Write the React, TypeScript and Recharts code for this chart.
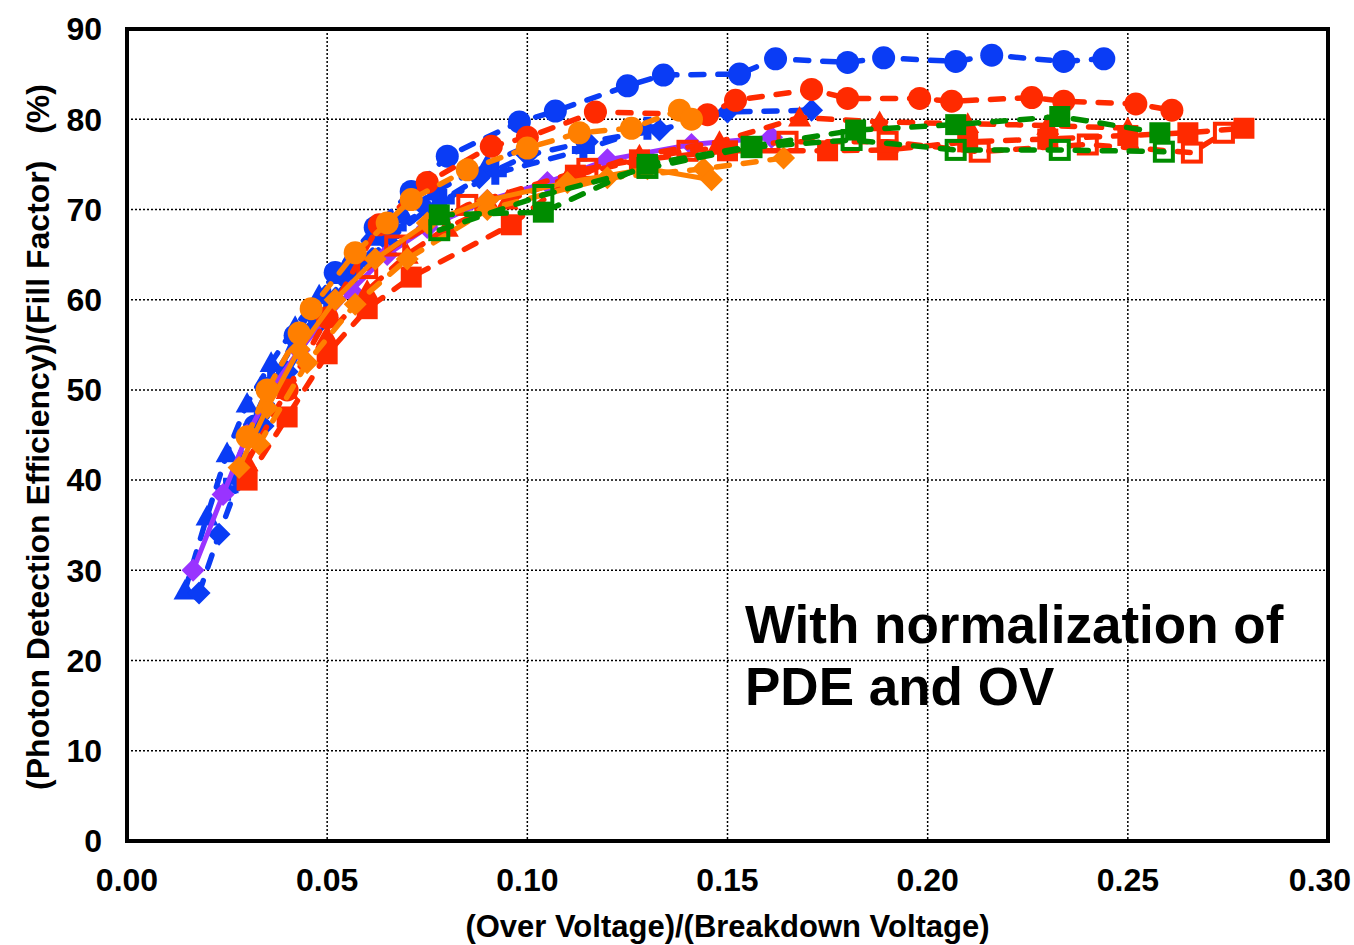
import React from 'react';
import { ScatterChart, Scatter, XAxis, YAxis, CartesianGrid, ReferenceArea } from 'recharts';

const BLUE = '#0a3cf5';
const RED = '#ff2a00';
const ORANGE = '#ff7f00';
const GREEN = '#008c00';
const PURPLE = '#9933ff';

// x = overvoltage / breakdown voltage, y = PDE / fill factor (%)
const blueCircX = [0.032, 0.042, 0.052, 0.062, 0.071, 0.08, 0.098, 0.107, 0.125, 0.134, 0.153, 0.162, 0.18, 0.189, 0.207, 0.216, 0.234, 0.244];
const blueCircY = [46, 56, 63, 68, 72, 75.9, 79.7, 80.9, 83.7, 84.9, 85, 86.7, 86.3, 86.8, 86.4, 87.1, 86.4, 86.7];

const blueTriX = [0.0145, 0.02, 0.025, 0.03, 0.036, 0.042, 0.048, 0.055, 0.062, 0.069, 0.077, 0.09, 0.1];
const blueTriY = [27.8, 36, 43, 48.5, 53, 57, 60.5, 64, 67, 69.5, 72, 75, 77];

const blueDiaX = [0.018, 0.023, 0.028, 0.034, 0.04, 0.047, 0.055, 0.065, 0.075, 0.088, 0.1, 0.115, 0.133, 0.15, 0.171];
const blueDiaY = [27.5, 34, 40, 46, 52, 57, 62, 66.5, 70, 73.5, 76, 77.5, 78.8, 80.8, 81];

const blueCrossX = [0.025, 0.03, 0.036, 0.043, 0.05, 0.058, 0.067, 0.079, 0.092, 0.114, 0.13];
const blueCrossY = [39, 45, 51, 56, 60, 64, 68, 71, 74, 76.6, 79];

const redCircX = [0.04, 0.05, 0.063, 0.075, 0.091, 0.1, 0.117, 0.145, 0.152, 0.171, 0.18, 0.198, 0.206, 0.226, 0.234, 0.252, 0.261];
const redCircY = [50, 58, 68.3, 73, 77, 78, 80.8, 80.5, 82.1, 83.3, 82.3, 82.3, 82, 82.4, 82, 81.7, 81];

const redTriX = [0.03, 0.04, 0.05, 0.06, 0.07, 0.08, 0.095, 0.11, 0.128, 0.148, 0.168, 0.188, 0.21, 0.23, 0.25];
const redTriY = [42, 50, 56, 61, 65, 68, 71, 73.5, 76, 77.5, 80.2, 79.7, 79.5, 79.3, 79];

const redSqX = [0.03, 0.04, 0.05, 0.06, 0.071, 0.096, 0.112, 0.128, 0.15, 0.175, 0.19, 0.21, 0.23, 0.25, 0.265, 0.279];
const redSqY = [40, 47, 54, 59, 62.5, 68.3, 73.8, 75.5, 76.5, 76.5, 76.6, 77.5, 77.8, 78.2, 78.5, 79];

const redOpenX = [0.06, 0.067, 0.085, 0.115, 0.14, 0.165, 0.19, 0.213, 0.24, 0.266, 0.274];
const redOpenY = [63.5, 66, 70.5, 74.5, 76.5, 77.5, 77.5, 76.4, 77.2, 76.3, 78.5];

const greenSqX = [0.078, 0.104, 0.13, 0.156, 0.182, 0.207, 0.233, 0.258];
const greenSqY = [69.4, 69.7, 75, 77, 78.8, 79.4, 80.3, 78.5];

const greenOpenX = [0.078, 0.104, 0.13, 0.156, 0.181, 0.207, 0.233, 0.259];
const greenOpenY = [67.7, 71.6, 74.6, 76.9, 77.7, 76.6, 76.6, 76.4];

const orangeCircX = [0.03, 0.035, 0.043, 0.046, 0.057, 0.065, 0.071, 0.085, 0.1, 0.113, 0.126, 0.138, 0.141];
const orangeCircY = [44.8, 50, 56.3, 59, 65.2, 68.5, 71.1, 74.4, 76.8, 78.5, 79, 81, 80];

const orangeDiaX = [0.028, 0.035, 0.043, 0.052, 0.062, 0.075, 0.09, 0.11, 0.13, 0.146];
const orangeDiaY = [41.4, 48, 54.5, 60, 64.5, 68.5, 71, 73, 74.5, 73.3];

const orangeDia2X = [0.033, 0.045, 0.057, 0.07, 0.09, 0.12, 0.144, 0.164];
const orangeDia2Y = [44, 53, 59.5, 64.5, 70, 73.5, 74.5, 75.7];

const purpleX = [0.0165, 0.024, 0.03, 0.036, 0.043, 0.05, 0.056, 0.065, 0.075, 0.09, 0.105, 0.12, 0.141, 0.161];
const purpleY = [30, 38.4, 45, 50, 54.4, 58, 61, 65, 68, 71, 73, 75.5, 77.2, 78];

const xTicks = [0, 0.05, 0.1, 0.15, 0.2, 0.25, 0.3];
const yTicks = [0, 10, 20, 30, 40, 50, 60, 70, 80, 90];

const pts = (xs: number[], ys: number[]) => xs.map((x, i) => ({ x, y: ys[i] }));

type Kind = 'circle' | 'triangle' | 'diamond' | 'cross' | 'square' | 'open';

function marker(kind: Kind, color: string) {
  return (p: any) => {
    const { cx, cy } = p;
    if (cx == null || cy == null) return <g />;
    const r = 11.5;
    switch (kind) {
      case 'circle':
        return <circle cx={cx} cy={cy} r={r} fill={color} />;
      case 'triangle':
        return <polygon points={`${cx},${cy - r} ${cx + r},${cy + r * 0.8} ${cx - r},${cy + r * 0.8}`} fill={color} />;
      case 'diamond':
        return <polygon points={`${cx},${cy - r} ${cx + r},${cy} ${cx},${cy + r} ${cx - r},${cy}`} fill={color} />;
      case 'cross':
        return (
          <path
            d={`M${cx - 4},${cy - r}h8v${r - 4}h${r - 4}v8h${-(r - 4)}v${r - 4}h-8v${-(r - 4)}h${-(r - 4)}v-8h${r - 4}z`}
            fill={color}
          />
        );
      case 'square':
        return <rect x={cx - 10.5} y={cy - 10.5} width={21} height={21} fill={color} />;
      default:
        return <rect x={cx - 9} y={cy - 9} width={18} height={18} fill="none" stroke={color} strokeWidth={4} />;
    }
  };
}

const dashed = (color: string) => ({ stroke: color, strokeWidth: 5.5, strokeDasharray: '13 14', strokeLinecap: 'round' as const });

const series: { name: string; data: { x: number; y: number }[]; kind: Kind; color: string; solid?: boolean }[] = [
  { name: 'bt', data: pts(blueTriX, blueTriY), kind: 'triangle', color: BLUE },
  { name: 'bx', data: pts(blueCrossX, blueCrossY), kind: 'cross', color: BLUE },
  { name: 'bd', data: pts(blueDiaX, blueDiaY), kind: 'diamond', color: BLUE },
  { name: 'bc', data: pts(blueCircX, blueCircY), kind: 'circle', color: BLUE },
  { name: 'pd', data: pts(purpleX, purpleY), kind: 'diamond', color: PURPLE, solid: true },
  { name: 'rt', data: pts(redTriX, redTriY), kind: 'triangle', color: RED },
  { name: 'rc', data: pts(redCircX, redCircY), kind: 'circle', color: RED },
  { name: 'rs', data: pts(redSqX, redSqY), kind: 'square', color: RED },
  { name: 'ro', data: pts(redOpenX, redOpenY), kind: 'open', color: RED },
  { name: 'od2', data: pts(orangeDia2X, orangeDia2Y), kind: 'diamond', color: ORANGE },
  { name: 'od', data: pts(orangeDiaX, orangeDiaY), kind: 'diamond', color: ORANGE, solid: true },
  { name: 'oc', data: pts(orangeCircX, orangeCircY), kind: 'circle', color: ORANGE },
  { name: 'go', data: pts(greenOpenX, greenOpenY), kind: 'open', color: GREEN },
  { name: 'gs', data: pts(greenSqX, greenSqY), kind: 'square', color: GREEN },
];

const font = '"Liberation Sans", Arial, sans-serif';
const tickStyle = { fontSize: 32, fontWeight: 700, fill: '#000', fontFamily: font };

// x tick: last label would run past the right edge, so nudge it in
const XTick = (p: any) => {
  const { x, y, payload } = p;
  const last = payload.value >= 0.3;
  return (
    <text x={last ? x - 8 : x} y={y} dy="0.71em" textAnchor="middle" {...tickStyle}>
      {Number(payload.value).toFixed(2)}
    </text>
  );
};

export default function App() {
  return (
    <div style={{ position: 'absolute', left: 0, top: 0, width: 1354, height: 945, background: '#fff', fontFamily: font }}>
      <ScatterChart width={1354} height={945} margin={{ top: 29, right: 26, bottom: 0, left: 0 }}>
        <CartesianGrid stroke="#000" strokeDasharray="2 2" strokeWidth={1.5} />
        <XAxis
          type="number"
          dataKey="x"
          domain={[0, 0.3]}
          ticks={xTicks}
          axisLine={false}
          tickLine={false}
          tickSize={6}
          tickMargin={21}
          height={104}
          tick={<XTick />}
          interval={0}
          label={{
            value: '(Over Voltage)/(Breakdown Voltage)',
            position: 'insideBottom',
            offset: 8,
            style: { fontSize: 31, fontWeight: 700, fill: '#000', fontFamily: font },
          }}
        />
        <YAxis
          type="number"
          dataKey="y"
          domain={[0, 90]}
          ticks={yTicks}
          axisLine={false}
          tickLine={false}
          tickSize={6}
          tickMargin={19}
          width={127}
          tick={tickStyle}
          interval={0}
        />
        {series.map((s) => (
          <Scatter
            key={s.name}
            name={s.name}
            data={s.data}
            fill={s.color}
            line={s.solid ? { stroke: s.color, strokeWidth: 5 } : dashed(s.color)}
            shape={marker(s.kind, s.color)}
            isAnimationActive={false}
          />
        ))}
        <ReferenceArea x1={0} x2={0.3} y1={0} y2={90} fill="none" stroke="#000" strokeWidth={4} ifOverflow="visible" />
      </ScatterChart>
      <div
        style={{
          position: 'absolute',
          left: 38,
          top: 437,
          transform: 'translate(-50%, -50%) rotate(-90deg)',
          whiteSpace: 'pre',
          fontSize: 32,
          fontWeight: 700,
          color: '#000',
        }}
      >
        {'(Photon Detection Efficiency)/(Fill Factor)   (%)'}
      </div>
      <div
        style={{
          position: 'absolute',
          left: 745,
          top: 594,
          fontSize: 53,
          fontWeight: 700,
          lineHeight: '62px',
          color: '#000',
        }}
      >
        With normalization of
        <br />
        PDE and OV
      </div>
    </div>
  );
}
